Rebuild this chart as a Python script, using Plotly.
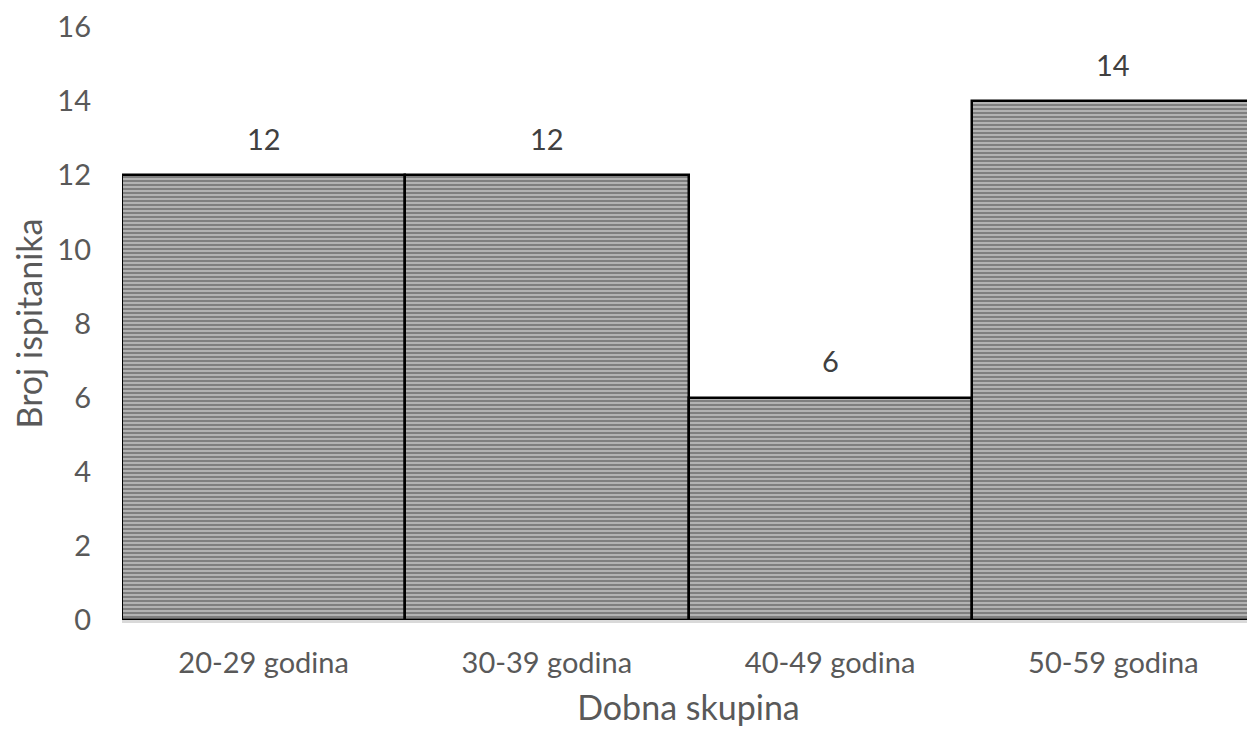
import plotly.graph_objects as go

categories = ["20-29 godina", "30-39 godina", "40-49 godina", "50-59 godina"]
values = [12, 12, 6, 14]
y_ticks = [0, 2, 4, 6, 8, 10, 12, 14, 16]

font_fam = "Lato, 'Open Sans', sans-serif"
gray = "#595959"

fig = go.Figure(go.Bar(
    x=categories, y=values,
    marker=dict(color="white",
                line=dict(color="black", width=2.5),
                pattern=dict(shape="-", size=4, solidity=0.8, fgcolor="black", bgcolor="white")),
    cliponaxis=False,
))

annotations = [dict(x=c, y=v, text=str(v), showarrow=False, yshift=37, yanchor="middle",
                    font=dict(size=29, color="#404040", family=font_fam))
               for c, v in zip(categories, values)]

fig.update_layout(
    width=1247, height=719,
    margin=dict(l=114, r=0, t=19, b=107),
    plot_bgcolor="white", paper_bgcolor="white",
    bargap=0, showlegend=False,
    font=dict(family=font_fam, color=gray, size=29),
    annotations=annotations,
    xaxis=dict(title=dict(text="Dobna skupina", font=dict(size=34, color=gray), standoff=38),
               showline=True, linecolor="#d9d9d9", linewidth=3, ticks="", showgrid=False,
               tickfont=dict(size=29, color=gray), range=[-0.5, 3.5], ticklabelstandoff=15,
               automargin=False),
    yaxis=dict(title=dict(text="Broj ispitanika", font=dict(size=34, color=gray), standoff=20),
               range=[0, 16], tickvals=y_ticks, showgrid=False, zeroline=False,
               tickfont=dict(size=29, color=gray), ticks="", ticklabelstandoff=30,
               ticklabeloverflow="allow", automargin=False),
)

fig.write_html("out.html")
